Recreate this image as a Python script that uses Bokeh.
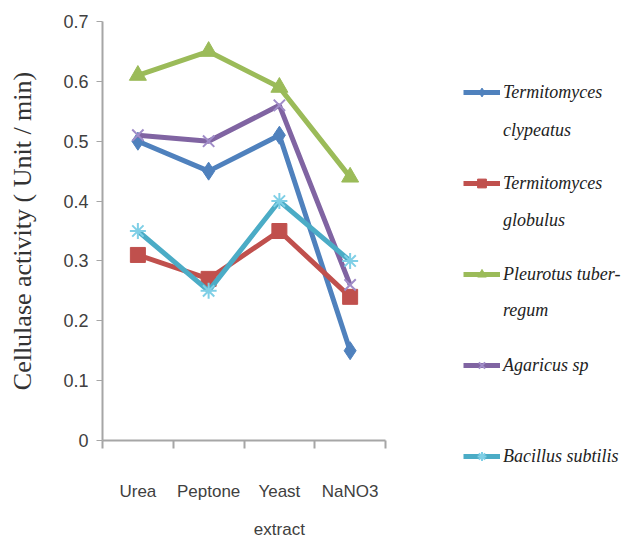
from bokeh.plotting import figure
from bokeh.layouts import row
from bokeh.models import FixedTicker, Range1d, Legend, LegendItem
from bokeh.embed import file_html
from bokeh.resources import INLINE

# ---- data ----
categories = ["Urea", "Peptone", "Yeast\nextract", "NaNO3"]
series_first_lines = ["Termitomyces", "Termitomyces", "Pleurotus tuber-", "Agaricus sp", "Bacillus subtilis"]
series_second_lines = ["clypeatus", "globulus", "regum"]
t_clypeatus = [0.50, 0.45, 0.51, 0.15]
t_globulus = [0.31, 0.27, 0.35, 0.24]
p_tuber_regum = [0.61, 0.65, 0.59, 0.44]
agaricus_sp = [0.51, 0.50, 0.56, 0.26]
b_subtilis = [0.35, 0.25, 0.40, 0.30]
y_ticks = [0, 0.1, 0.2, 0.3, 0.4, 0.5, 0.6, 0.7]
y_tick_labels = ["0", "0.1", "0.2", "0.3", "0.4", "0.5", "0.6", "0.7"]
y_title = "Cellulase activity ( Unit / min)"

series = [t_clypeatus, t_globulus, p_tuber_regum, agaricus_sp, b_subtilis]
colors = ["#4F81BD", "#C0504D", "#9BBB59", "#8064A2", "#4BACC6"]
marker_colors = ["#4F81BD", "#C0504D", "#9BBB59", "#A08CC8", "#7FCFE6"]
markers = ["diamond", "square", "triangle", "x", "asterisk"]
sizes = [18, 15, 17, 16, 16]

xs = [i + 0.5 for i in range(len(categories))]

H = 541
p = figure(width=400, height=H, output_backend="svg", toolbar_location=None,
           x_range=Range1d(0, len(categories)), y_range=Range1d(0, 0.7),
           min_border_left=102, min_border_right=15, min_border_top=21,
           min_border_bottom=98)
p.outline_line_color = None
p.xgrid.visible = False
p.ygrid.visible = False
p.background_fill_color = "white"
p.border_fill_color = "white"

axis_col = "#A6A6A6"
tick_font = "Liberation Sans"
# x axis
xa = p.xaxis[0]
xa.ticker = FixedTicker(ticks=xs, minor_ticks=list(range(len(categories) + 1)))
xa.major_label_overrides = {x: c for x, c in zip(xs, categories)}
xa.major_tick_line_color = None
xa.major_tick_out = 0
xa.minor_tick_line_color = axis_col
xa.minor_tick_out = 8
xa.minor_tick_in = 0
xa.minor_tick_line_width = 2
xa.axis_line_color = axis_col
xa.axis_line_width = 2
xa.major_label_standoff = 33
xa.major_label_text_font = tick_font
xa.major_label_text_font_size = "17px"
xa.major_label_text_line_height = 2.0
xa.major_label_text_color = "#404040"

# y axis
ya = p.yaxis[0]
ya.ticker = FixedTicker(ticks=y_ticks)
ya.major_label_overrides = {t: l for t, l in zip(y_ticks, y_tick_labels)}
ya.minor_tick_line_color = None
ya.major_tick_out = 6
ya.major_tick_in = 0
ya.major_tick_line_color = axis_col
ya.axis_line_color = axis_col
ya.axis_line_width = 2
ya.major_label_standoff = 8
ya.major_label_text_font = tick_font
ya.major_label_text_font_size = "18px"
ya.major_label_text_color = "#404040"
ya.axis_label = y_title
ya.axis_label_text_font = "Liberation Serif"
ya.axis_label_text_font_style = "normal"
ya.axis_label_text_font_size = "26px"
ya.axis_label_text_color = "#333333"
ya.axis_label_standoff = 23

for vals, col, mcol, mk, sz in zip(series, colors, marker_colors, markers, sizes):
    p.line(xs, vals, line_color=col, line_width=5)
    p.scatter(xs, vals, marker=mk, size=sz, fill_color=col, line_color=mcol,
              line_width=2 if mk in ("x", "asterisk") else 1)

# ---- legend panel (series drawn off-range, only their legend swatches show) ----
LW = 229
lp = figure(width=LW, height=H, output_backend="svg", toolbar_location=None,
            x_axis_type=None, y_axis_type=None, title=None,
            x_range=Range1d(100, 101), y_range=Range1d(100, 101),
            min_border_left=0, min_border_right=0, min_border_top=0, min_border_bottom=0)
lp.grid.visible = False
lp.outline_line_color = None
lp.border_fill_color = "white"
try:
    lp.frame_align = False
    frame_bottom = H
except AttributeError:
    frame_bottom = 441

items = []
for name, vals, col, mcol, mk, sz in zip(series_first_lines, series, colors, marker_colors, markers, sizes):
    ln = lp.line(xs, vals, line_color=col, line_width=5)
    sc = lp.scatter(xs, vals, marker=mk, size=sz, fill_color=col, line_color=mcol,
                    line_width=2 if mk in ("x", "asterisk") else 1)
    items.append(LegendItem(label=name, renderers=[ln, sc]))

blank = lp.line(xs, t_clypeatus, line_alpha=0)
items2 = [LegendItem(label=name, renderers=[blank]) for name in series_second_lines]

item_h = 22
sp1 = 69
sp2 = 68
top1 = 81
top2 = 119
h1 = len(items) * item_h + (len(items) - 1) * sp1
h2 = len(items2) * item_h + (len(items2) - 1) * sp2
lx = 63


def style(lg, sp):
    lg.border_line_color = None
    lg.background_fill_alpha = 0
    lg.padding = 0
    lg.margin = 0
    lg.spacing = sp
    lg.glyph_width = 37
    lg.glyph_height = item_h
    lg.label_height = item_h
    lg.label_standoff = 3
    lg.label_text_font = "Liberation Serif"
    lg.label_text_font_style = "italic"
    lg.label_text_font_size = "18px"
    lg.label_text_color = "#222222"


legend1 = Legend(items=items, location=(lx, frame_bottom - top1 - h1), orientation="vertical")
style(legend1, sp1)
legend2 = Legend(items=items2, location=(lx, frame_bottom - top2 - h2), orientation="vertical")
style(legend2, sp2)
lp.add_layout(legend1, "center")
lp.add_layout(legend2, "center")

layout = row(p, lp, spacing=0)
open("out.html", "w").write(file_html(layout, INLINE))
